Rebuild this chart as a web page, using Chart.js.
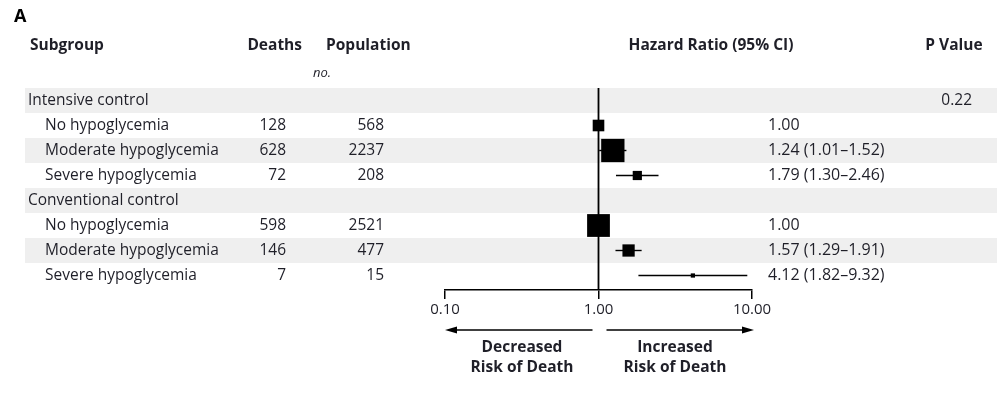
<!DOCTYPE html>
<html><head><meta charset="utf-8">
<script src="https://cdn.jsdelivr.net/npm/chart.js@4"></script>
<style>html,body{margin:0;padding:0;background:#fff;}#wrap{width:1005px;height:394px;position:relative}</style>
</head><body><div id="wrap"><canvas id="c" width="1005" height="394"></canvas></div>
<script>
// ---- data ----
const subgroups = ["Intensive control","No hypoglycemia","Moderate hypoglycemia","Severe hypoglycemia","Conventional control","No hypoglycemia","Moderate hypoglycemia","Severe hypoglycemia"];
const isGroupRow = [true,false,false,false,true,false,false,false];
const deaths = [null,128,628,72,null,598,146,7];
const population = [null,568,2237,208,null,2521,477,15];
const hazardRatio = [null,1.00,1.24,1.79,null,1.00,1.57,4.12];
const ciLow = [null,null,1.01,1.30,null,null,1.29,1.82];
const ciHigh = [null,null,1.52,2.46,null,null,1.91,9.32];
const pValues = ["0.22","","","","","","",""];
const xTicks = [0.1,1,10];
const xTickLabels = ["0.10","1.00","10.00"];

const FONT = "'Open Sans', sans-serif";
const TXT = '#1f1f28';

const rows = subgroups.map((s,i)=>i);
const pointData = [];
const pointSizes = [];
rows.forEach(i=>{ if(hazardRatio[i]!=null){ pointData.push({x:hazardRatio[i],y:i}); pointSizes.push((2+0.85*Math.sqrt(deaths[i]))/ (2*Math.SQRT1_2)); }});

const ciSets = rows.filter(i=>ciLow[i]!=null).map(i=>({
  type:'line', data:[{x:ciLow[i],y:i},{x:ciHigh[i],y:i}],
  borderColor:'#000', borderWidth:1.4, pointRadius:0, clip:false, order:2
}));

function hrText(i){
  if(hazardRatio[i]==null) return '';
  let t = hazardRatio[i].toFixed(2);
  if(ciLow[i]!=null) t += ' (' + ciLow[i].toFixed(2) + '\u2013' + ciHigh[i].toFixed(2) + ')';
  return t;
}

const decor = {
  id:'decor',
  beforeDraw(chart){
    const ctx=chart.ctx, y=chart.scales.y;
    ctx.save();
    ctx.fillStyle='#efefef';
    rows.forEach(i=>{ if(i%2===0){ const c=y.getPixelForValue(i); ctx.fillRect(25,c-12.5,972,25);} });
    ctx.restore();
  },
  afterDraw(chart){
    const ctx=chart.ctx, x=chart.scales.x, y=chart.scales.y;
    ctx.save();
    ctx.fillStyle=TXT;
    ctx.textBaseline='middle';
    // panel letter
    ctx.font="bold 18px "+FONT; ctx.textAlign='left'; ctx.fillStyle='#000';
    ctx.fillText('A',14,17);
    ctx.fillStyle=TXT;
    ctx.font="bold 15.5px "+FONT;
    ctx.textAlign='left'; ctx.fillText('Subgroup',30,46);
    ctx.textAlign='right'; ctx.fillText('Deaths',302,46);
    ctx.textAlign='left'; ctx.fillText('Population',326,46);
    ctx.textAlign='center'; ctx.fillText('Hazard Ratio (95% CI)',711,46);
    ctx.textAlign='center'; ctx.fillText('P Value',954,46);
    ctx.font="italic 13px "+FONT; ctx.textAlign='left'; ctx.fillText('no.',313,73);
    rows.forEach(i=>{
      const c=y.getPixelForValue(i);
      ctx.font="15.5px "+FONT;
      ctx.textAlign='left';
      ctx.fillText(subgroups[i], isGroupRow[i]?28:45, c);
      ctx.textAlign='right';
      if(deaths[i]!=null) ctx.fillText(String(deaths[i]),286,c);
      if(population[i]!=null) ctx.fillText(String(population[i]),384,c);
      ctx.font="16px "+FONT;
      ctx.textAlign='left';
      ctx.fillText(hrText(i),768,c);
      ctx.font="15.5px "+FONT;
      ctx.textAlign='right';
      if(pValues[i]) ctx.fillText(pValues[i],972,c);
    });
    // arrows
    const ay=330, x0=x.getPixelForValue(0.1), x1=x.getPixelForValue(1), x2=x.getPixelForValue(10);
    ctx.strokeStyle='#000'; ctx.fillStyle='#000'; ctx.lineWidth=1.5;
    ctx.beginPath(); ctx.moveTo(x0+8,ay); ctx.lineTo(x1-6,ay); ctx.stroke();
    ctx.beginPath(); ctx.moveTo(x0,ay); ctx.lineTo(x0+12,ay-3.5); ctx.lineTo(x0+12,ay+3.5); ctx.closePath(); ctx.fill();
    ctx.beginPath(); ctx.moveTo(x1+8,ay); ctx.lineTo(x2-6,ay); ctx.stroke();
    ctx.beginPath(); ctx.moveTo(x2+2,ay); ctx.lineTo(x2-10,ay-3.5); ctx.lineTo(x2-10,ay+3.5); ctx.closePath(); ctx.fill();
    ctx.fillStyle=TXT; ctx.font="bold 15.5px "+FONT; ctx.textAlign='center';
    ctx.fillText('Decreased',522,348); ctx.fillText('Risk of Death',522,368);
    ctx.fillText('Increased',675,348); ctx.fillText('Risk of Death',675,368);
    ctx.restore();
  }
};

new Chart(document.getElementById('c'),{
  type:'scatter',
  data:{datasets:[
    {type:'line', data:[{x:1,y:-0.5},{x:1,y:7.58}], borderColor:'#000', borderWidth:1.8, pointRadius:0, clip:false, order:3},
    ...ciSets,
    {type:'scatter', data:pointData, pointStyle:'rect', pointRadius:pointSizes, pointHoverRadius:pointSizes,
     backgroundColor:'#000', borderColor:'#000', borderWidth:0, clip:false, order:1}
  ]},
  options:{
    responsive:false, animation:false, devicePixelRatio:1,
    events:[],
    layout:{padding:{left:445,right:253,top:88,bottom:66}},
    plugins:{legend:{display:false},tooltip:{enabled:false}},
    scales:{
      x:{type:'logarithmic', min:0.1, max:10, position:'bottom',
        afterBuildTicks(s){ s.ticks = xTicks.map(v=>({value:v})); },
        afterFit(s){ s.height=38; },
        border:{display:true,color:'#000',width:1.5},
        grid:{display:true,drawOnChartArea:false,drawTicks:true,tickLength:9,color:'#000',lineWidth:1.5},
        ticks:{autoSkip:false, maxRotation:0, padding:2, color:TXT, font:{family:"'Open Sans', sans-serif",size:15},
          callback(v){ const k=xTicks.indexOf(v); return k>=0?xTickLabels[k]:''; }}
      },
      y:{type:'linear', reverse:true, min:-0.5, max:7.58, display:false}
    }
  },
  plugins:[decor]
});
</script></body></html>
